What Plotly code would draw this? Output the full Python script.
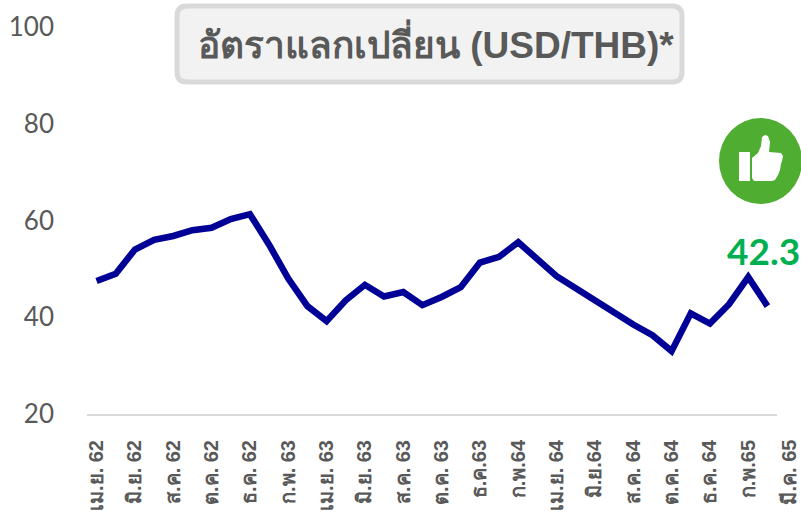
import plotly.graph_objects as go

W, H = 801, 513
months = ["เม.ย. 62","พ.ค. 62","มิ.ย. 62","ก.ค. 62","ส.ค. 62","ก.ย. 62","ต.ค. 62","พ.ย. 62","ธ.ค. 62","ม.ค. 63",
          "ก.พ. 63","มี.ค. 63","เม.ย. 63","พ.ค. 63","มิ.ย. 63","ก.ค. 63","ส.ค. 63","ก.ย. 63","ต.ค. 63","พ.ย. 63",
          "ธ.ค.63","ม.ค. 64","ก.พ.64","มี.ค. 64","เม.ย. 64","พ.ค. 64","มิ.ย.64","ก.ค. 64","ส.ค. 64","ก.ย. 64",
          "ต.ค. 64","พ.ย. 64","ธ.ค. 64","ม.ค. 65","ก.พ.65","มี.ค. 65"]
values = [47.5,49,54,56,56.8,58,58.5,60.3,61.3,55,48,42.3,39.2,43.5,46.7,44.3,45.2,42.5,44.2,46.2,
          51.3,52.5,55.5,52,48.5,46,43.5,40.8,38.5,36.3,33,40.8,38.7,42.7,48.3,42.3]
shown_ticks = months[0::2][:18]
last_tick = months[-1]
y_ticks = [20, 40, 60, 80, 100]
last_label = "42.3"
title = "อัตราแลกเปลี่ยน (USD/THB)*"

def px(x): return x / W
def py(y): return 1 - y / H
def path(points):
    return "M " + " L ".join(f"{px(x):.5f},{py(y):.5f}" for x, y in points) + " Z"

fig = go.Figure(go.Scatter(x=months, y=values, mode="lines",
                           line=dict(color="#000096", width=6.5, shape="linear"),
                           hoverinfo="skip"))

l, t, r, b, c = 177, 6, 682, 82, 10
box = (f"M {px(l+c)},{py(t)} L {px(r-c)},{py(t)} Q {px(r)},{py(t)} {px(r)},{py(t+c)} "
       f"L {px(r)},{py(b-c)} Q {px(r)},{py(b)} {px(r-c)},{py(b)} L {px(l+c)},{py(b)} "
       f"Q {px(l)},{py(b)} {px(l)},{py(b-c)} L {px(l)},{py(t+c)} Q {px(l)},{py(t)} {px(l+c)},{py(t)} Z")

thumb_pts = [(754,181),(752,178),(752,158),(758,153),(761,146),(762,137),(765,135),(768,136),(770,142),
             (769,152),(781,153),(783,156),(782,161),(781,164),(780,170),(778,175),(775,180),(772,181)]

shapes = [
    dict(type="path", xref="paper", yref="paper", path=box, fillcolor="#f2f2f2",
         line=dict(color="#d9d9d9", width=5), layer="below"),
    dict(type="circle", xref="paper", yref="paper", x0=px(719), x1=px(802), y0=py(204), y1=py(118),
         fillcolor="#4fae32", line=dict(width=0)),
    dict(type="rect", xref="paper", yref="paper", x0=px(739), x1=px(750), y0=py(181), y1=py(152),
         fillcolor="white", line=dict(width=0)),
    dict(type="path", xref="paper", yref="paper", path=path(thumb_pts), fillcolor="white", line=dict(width=0)),
]

annotations = [
    dict(text=f"<b>{title}</b>", xref="paper", yref="paper", x=px(435.5), y=py(43), showarrow=False,
         xanchor="center", yanchor="middle", font=dict(family="Liberation Sans, Noto Sans", size=37, color="#595959")),
    dict(text=f"<b>{last_label}</b>", xref="paper", yref="paper", x=px(725), y=py(250), showarrow=False,
         xanchor="left", yanchor="middle", font=dict(family="Lato", size=37, color="#00b050")),
    dict(text=f"<b>{last_tick}</b>", xref="paper", yref="paper", x=px(788), y=py(438), showarrow=False,
         textangle=-90, xanchor="center", yanchor="top",
         font=dict(family="Liberation Sans, Noto Sans", size=20, color="#595959")),
]

fig.update_layout(
    width=W, height=H, autosize=False, showlegend=False,
    margin=dict(l=0, r=0, t=0, b=0),
    paper_bgcolor="white", plot_bgcolor="white",
    shapes=shapes, annotations=annotations,
    xaxis=dict(domain=[px(87), px(777)], type="category", categoryorder="array", categoryarray=months,
               range=[-0.5, 35.5], tickmode="array", tickvals=shown_ticks,
               ticktext=[f"<b>{s}</b>" for s in shown_ticks],
               tickangle=-90, ticks="outside", ticklen=16, tickcolor="rgba(0,0,0,0)", showgrid=False,
               showline=True, linecolor="#d9d9d9", linewidth=2,
               tickfont=dict(family="Liberation Sans, Noto Sans", size=20, color="#595959"),
               automargin=False),
    yaxis=dict(domain=[py(414), py(27)], range=[20, 100], tickmode="array", tickvals=y_ticks,
               showgrid=False, zeroline=False, showline=False, ticks="",
               tickfont=dict(family="Lato", size=26, color="#595959"), automargin=False, anchor="free", position=px(54)),
)
fig.write_html("out.html", config=dict(displayModeBar=False),
               post_script="document.body.style.margin='0';document.body.style.overflow='hidden';")
